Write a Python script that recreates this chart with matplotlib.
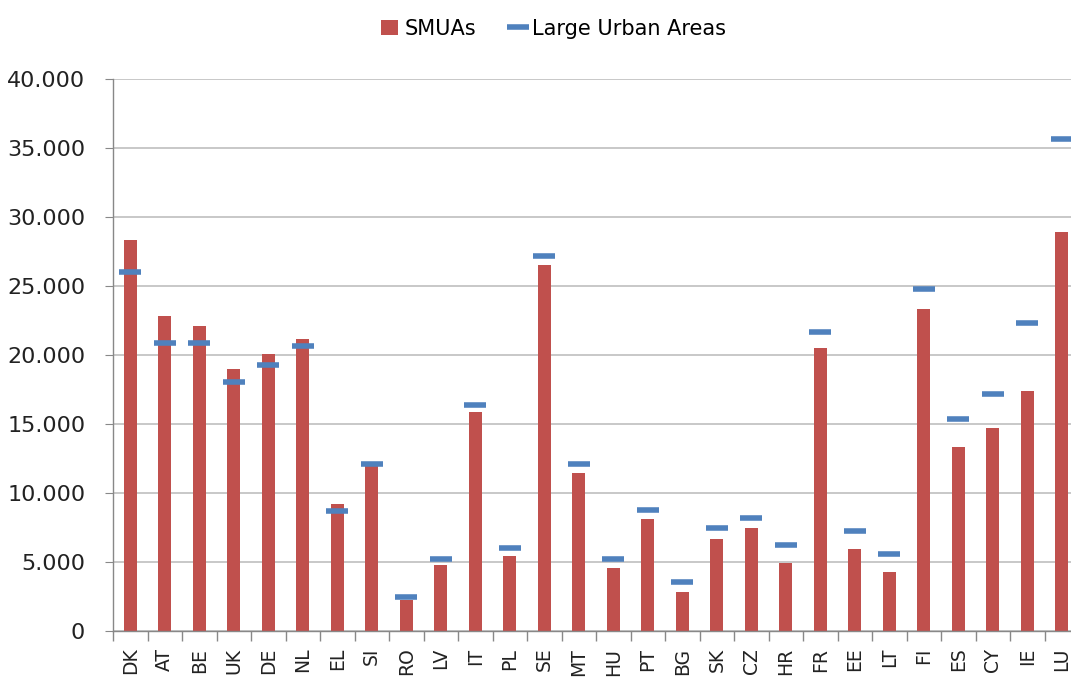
import matplotlib
matplotlib.use("Agg")
import matplotlib.pyplot as plt
import numpy as np
from matplotlib.ticker import FuncFormatter, FixedLocator

countries = ["DK", "AT", "BE", "UK", "DE", "NL", "EL", "SI", "RO", "LV", "IT", "PL", "SE", "MT",
             "HU", "PT", "BG", "SK", "CZ", "HR", "FR", "EE", "LT", "FI", "ES", "CY", "IE", "LU"]
smuas = [28300, 22800, 22100, 19000, 20100, 21150, 9200, 11950, 2250, 4800, 15850, 5400, 26500, 11450,
         4550, 8100, 2800, 6700, 7450, 4950, 20500, 5950, 4300, 23350, 13300, 14700, 17400, 28900]
large_urban = [26000, 20850, 20850, 18050, 19300, 20650, 8700, 12100, 2500, 5250, 16350, 6050, 27150, 12100,
               5200, 8800, 3550, 7450, 8200, 6250, 21650, 7250, 5600, 24750, 15350, 17200, 22300, 35650]
yticks = [0, 5000, 10000, 15000, 20000, 25000, 30000, 35000, 40000]

plt.rcParams['font.family'] = ['DejaVu Sans']
fig = plt.figure(figsize=(10.71, 6.80), dpi=100)
n = len(countries)
ax = fig.add_axes([113/1071, 49/680, (n*34.5)/1071, 552/680])

x = np.arange(n)
bar_color = "#C0504D"
line_color = "#4F81BD"
bars = ax.bar(x, smuas, width=0.38, color=bar_color, label="SMUAs", zorder=2)
line, = ax.plot(x, large_urban, linestyle="none", marker="_", markersize=16, markeredgewidth=4,
                color=line_color, label="Large Urban Areas", zorder=3)

ax.set_xlim(-0.5, n - 0.5)
ax.set_ylim(0, 40000)
ax.set_yticks(yticks)
ax.yaxis.set_major_formatter(FuncFormatter(lambda v, p: "0" if v == 0 else f"{int(v):,}".replace(",", ".")))
ax.grid(axis="y", color="#BFBFBF", linewidth=1.2, zorder=0)
ax.set_axisbelow(True)

ax.set_xticks(x)
ax.set_xticklabels(countries, rotation=90, fontsize=13.5, color="#222222")
ax.xaxis.set_minor_locator(FixedLocator(np.arange(-0.5, n, 1.0)))
ax.tick_params(axis="x", which="major", length=0, pad=12)
ax.tick_params(axis="x", which="minor", length=7, color="#888888", width=1)
ax.tick_params(axis="y", length=6, color="#888888", labelsize=16, labelcolor="#222222", pad=14)

for s in ["top", "right"]:
    ax.spines[s].set_visible(False)
for s in ["left", "bottom"]:
    ax.spines[s].set_color("#888888")
    ax.spines[s].set_linewidth(1)

fig.legend(handles=[bars, line], labels=["SMUAs", "Large Urban Areas"],
           loc="upper center", bbox_to_anchor=(0.517, 1.0), ncol=2, frameon=False,
           fontsize=15, handlelength=0.8, handletextpad=0.3, columnspacing=1.6)

fig.savefig("out.png", dpi=100)
